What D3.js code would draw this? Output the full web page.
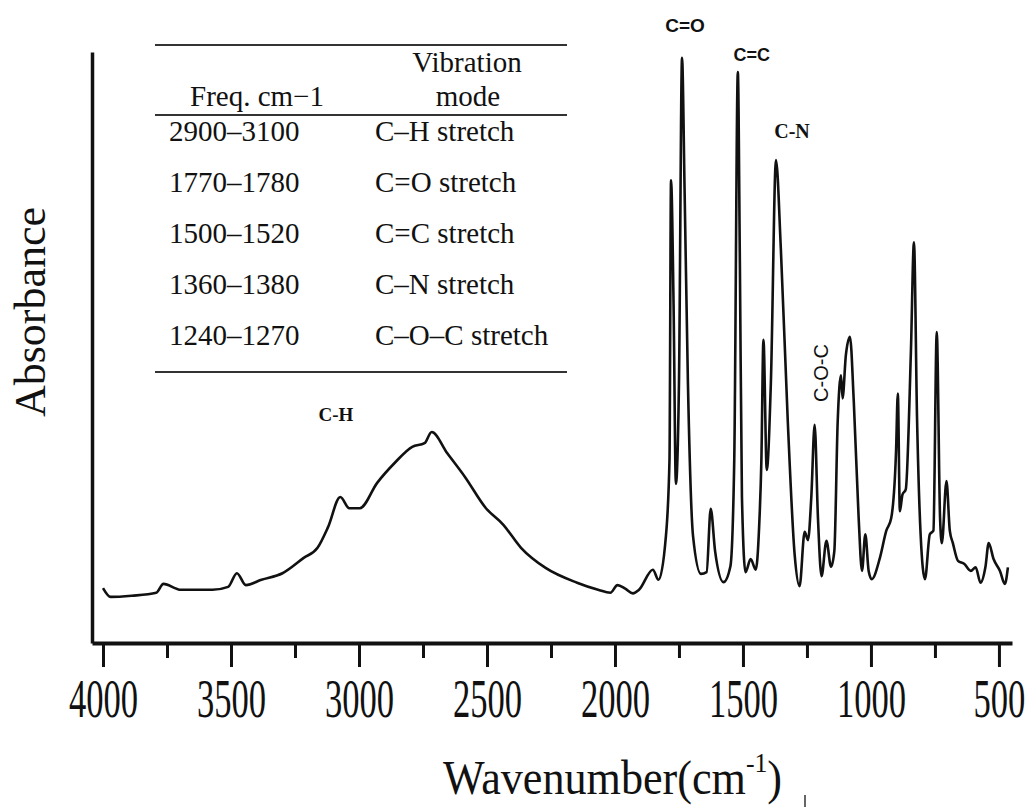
<!DOCTYPE html>
<html>
<head>
<meta charset="utf-8">
<script src="https://cdn.jsdelivr.net/npm/d3@7"></script>
<style>
  body { margin: 0; background: #fff; }
  svg { display: block; }
  .tbl text { font-family: "Liberation Serif", "Times New Roman", serif; font-size: 29px; fill: #111; }
</style>
</head>
<body>
<div id="chart"></div>
<script>
// spectrum (wavenumber in cm-1, absorbance in arbitrary units)
const wavenumbers = [4000, 3970, 3888, 3792, 3764, 3696, 3573, 3511, 3477, 3442, 3381, 3299, 3216, 3162, 3121, 3073, 3038, 2997, 2929, 2860, 2792, 2744, 2716, 2655, 2586, 2504, 2436, 2367, 2271, 2148, 2066, 2018, 1990, 1960, 1930, 1906, 1852, 1830, 1801, 1787, 1781, 1771, 1762, 1750, 1738, 1728, 1715, 1695, 1664, 1642, 1626, 1609, 1576, 1549, 1534, 1520, 1512, 1504, 1490, 1470, 1450, 1437, 1428, 1420, 1407, 1391, 1371, 1352, 1325, 1298, 1279, 1259, 1246, 1233, 1220, 1207, 1193, 1174, 1156, 1143, 1130, 1117, 1111, 1098, 1082, 1067, 1048, 1035, 1022, 1009, 997, 965, 940, 921, 902, 895, 887, 877, 864, 844, 832, 820, 806, 789, 770, 756, 743, 730, 723, 705, 692, 680, 660, 636, 610, 591, 572, 553, 540, 521, 496, 477, 465];
const absorbance = [9.3, 7.8, 8.0, 8.5, 10.0, 9.0, 9.0, 9.5, 11.8, 9.8, 10.7, 11.8, 14.4, 16.1, 19.6, 24.7, 22.8, 22.8, 27.1, 30.5, 33.2, 33.8, 35.7, 32.1, 28.1, 22.8, 20.0, 16.1, 12.7, 10.2, 9.0, 8.5, 9.8, 9.2, 8.4, 9.0, 12.4, 10.7, 18.1, 31, 78.3, 57, 26.9, 44, 99, 76.5, 44, 18.1, 11.7, 12.0, 22.7, 15.6, 10.3, 13, 31, 96.6, 64, 24.7, 12, 14.2, 12.4, 19.5, 31, 51.3, 29.3, 44, 81.7, 66.7, 37.6, 14.9, 9.6, 18.8, 17.4, 24.7, 36.9, 21.1, 11.3, 17.3, 12.9, 15.6, 37.4, 45.3, 41.4, 48.7, 51.8, 40.8, 21.1, 12.2, 18.4, 12.2, 10.8, 14.4, 19, 21.1, 32.4, 42.2, 22.3, 25.1, 26, 49.2, 67.8, 38.1, 18.4, 10.8, 18.4, 19, 52.6, 21.1, 16.9, 27.4, 19, 16.9, 13.9, 13.4, 12.2, 12.8, 10.2, 12.8, 16.9, 14.2, 12.2, 10, 12.8];

const majorTicks = [4000, 3500, 3000, 2500, 2000, 1500, 1000, 500];
const minorTicks = [3750, 3250, 2750, 2250, 1750, 1250, 750];

// peak annotations
const peakNames = ["C=O", "C=C", "C-N", "C-H", "C-O-C"];
const peakWn = [1738, 1520, 1371, 3090, 1190];

// inset table
const tableFreq = ["2900\u20133100", "1770\u20131780", "1500\u20131520", "1360\u20131380", "1240\u20131270"];
const tableMode = ["C\u2013H stretch", "C=O stretch", "C=C stretch", "C\u2013N stretch", "C\u2013O\u2013C stretch"];

const W = 1030, H = 807;
const sans = "'Liberation Sans', Arial, sans-serif";
const serif = "'Liberation Serif', 'Times New Roman', serif";

const svg = d3.select("#chart").append("svg")
  .attr("width", W)
  .attr("height", H);

const x = d3.scaleLinear().domain([4043, 449]).range([92, 1012]);
const y = d3.scaleLinear().domain([0, 100]).range([643, 52]);

// spectrum line
const data = wavenumbers.map((w, i) => ({ w: w, a: absorbance[i] }));
const line = d3.line()
  .x(d => x(d.w))
  .y(d => y(d.a))
  .curve(d3.curveMonotoneX);

svg.append("path")
  .datum(data)
  .attr("d", line)
  .attr("fill", "none")
  .attr("stroke", "#111")
  .attr("stroke-width", 2.6)
  .attr("stroke-linejoin", "round");

// x axis, minor ticks first
svg.append("g")
  .attr("transform", "translate(0,643)")
  .call(d3.axisBottom(x).tickValues(minorTicks).tickSize(15).tickSizeOuter(0).tickFormat(""))
  .call(g => g.select(".domain").remove())
  .call(g => g.selectAll(".tick line").attr("stroke", "#111").attr("stroke-width", 3));

const xAxis = svg.append("g")
  .attr("transform", "translate(0,643)")
  .call(d3.axisBottom(x).tickValues(majorTicks).tickSize(24).tickSizeOuter(0).tickFormat(d3.format("d")));

xAxis.select(".domain").attr("stroke", "#111").attr("stroke-width", 4);
xAxis.selectAll(".tick line").attr("stroke", "#111").attr("stroke-width", 3);
xAxis.selectAll(".tick text")
  .attr("y", 74)
  .attr("dy", 0)
  .attr("transform", "scale(0.64,1)")
  .attr("fill", "#111")
  .style("font-family", serif)
  .style("font-size", "54px");

// y axis without ticks
const yAxis = svg.append("g")
  .attr("transform", "translate(92,0)")
  .call(d3.axisLeft(y).tickValues([]).tickSizeOuter(0));
yAxis.select(".domain").attr("stroke", "#111").attr("stroke-width", 3.5);

// axis titles
svg.append("text")
  .attr("transform", "translate(45,312) rotate(-90)")
  .attr("text-anchor", "middle")
  .style("font-family", serif)
  .style("font-size", "44px")
  .attr("fill", "#111")
  .text("Absorbance");

const xt = svg.append("text")
  .attr("transform", "translate(443,794) scale(0.92,1)")
  .style("font-family", serif)
  .style("font-size", "48px")
  .attr("fill", "#111");
xt.append("tspan").text("Wavenumber(cm");
xt.append("tspan").attr("dy", -22).style("font-size", "28px").text("-1");
xt.append("tspan").attr("dy", 22).text(")");

svg.append("line")
  .attr("x1", 805).attr("x2", 805)
  .attr("y1", 795).attr("y2", 807)
  .attr("stroke", "#333")
  .attr("stroke-width", 1.5);

// peak labels
const peakStyle = [
  { y: 32, font: sans, size: 19, weight: "bold", rot: false, dx: 3 },
  { y: 61, font: sans, size: 18, weight: "bold", rot: false, dx: 14 },
  { y: 138, font: serif, size: 20, weight: "bold", rot: false, dx: 16 },
  { y: 421, font: serif, size: 19, weight: "bold", rot: false, dx: 0 },
  { y: 373, font: sans, size: 20, weight: "normal", rot: true, dx: 0 }
];
peakNames.forEach((name, i) => {
  const s = peakStyle[i];
  const t = svg.append("text")
    .attr("text-anchor", "middle")
    .style("font-family", s.font)
    .style("font-size", s.size + "px")
    .style("font-weight", s.weight)
    .attr("fill", "#111")
    .text(name);
  if (s.rot) {
    t.attr("transform", "translate(" + (x(peakWn[i]) + 6) + "," + s.y + ") rotate(-90)");
  } else {
    t.attr("x", x(peakWn[i]) + s.dx).attr("y", s.y);
  }
});

// inset table
const tbl = svg.append("g").attr("class", "tbl");
[45, 115, 372].forEach(yy => {
  tbl.append("line")
    .attr("x1", 155).attr("x2", 567)
    .attr("y1", yy).attr("y2", yy)
    .attr("stroke", "#333")
    .attr("stroke-width", 2);
});
tbl.append("text").attr("x", 467).attr("y", 72).attr("text-anchor", "middle").text("Vibration");
tbl.append("text").attr("x", 468).attr("y", 106).attr("text-anchor", "middle").text("mode");
tbl.append("text").attr("x", 190).attr("y", 106).text("Freq. cm\u22121");
const rowY = d3.scalePoint().domain(d3.range(tableFreq.length)).range([141, 345]);
tableFreq.forEach((f, i) => {
  tbl.append("text").attr("x", 169).attr("y", rowY(i)).text(f);
  tbl.append("text").attr("x", 375).attr("y", rowY(i)).text(tableMode[i]);
});
</script>
</body>
</html>
